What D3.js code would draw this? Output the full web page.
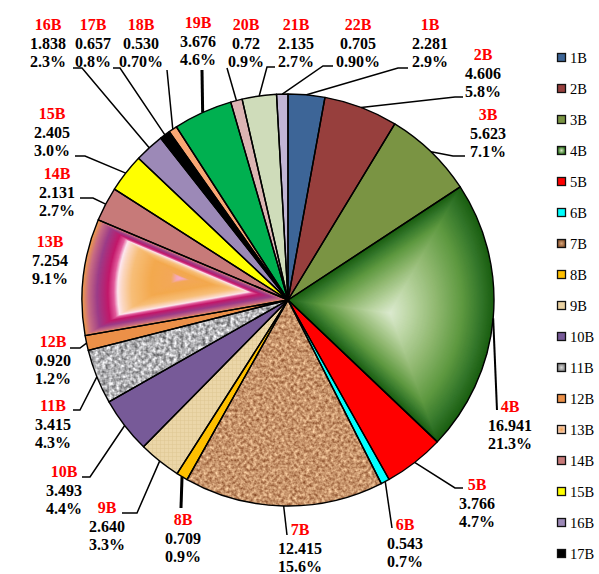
<!DOCTYPE html>
<html><head><meta charset="utf-8">
<script src="https://cdn.jsdelivr.net/npm/d3@7"></script>
<style>html,body{margin:0;padding:0;background:#fff;} svg{display:block;} text{font-family:"Liberation Serif","Times New Roman",serif;}</style>
</head><body>
<script>
// ---- data ----
const names = ["1B","2B","3B","4B","5B","6B","7B","8B","9B","10B","11B","12B","13B","14B","15B","16B","17B","18B","19B","20B","21B","22B"];
const values = [2.281,4.606,5.623,16.941,3.766,0.543,12.415,0.709,2.640,3.493,3.415,0.920,7.254,2.131,2.405,1.838,0.657,0.530,3.676,0.72,2.135,0.705];
const valueLabels = ["2.281","4.606","5.623","16.941","3.766","0.543","12.415","0.709","2.640","3.493","3.415","0.920","7.254","2.131","2.405","1.838","0.657","0.530","3.676","0.72","2.135","0.705"];
const pctLabels = ["2.9%","5.8%","7.1%","21.3%","4.7%","0.7%","15.6%","0.9%","3.3%","4.4%","4.3%","1.2%","9.1%","2.7%","3.0%","2.3%","0.8%","0.70%","4.6%","0.9%","2.7%","0.90%"];
const legendNames = names.slice(0,17);

// ---- styles / layout ----
const palette = ["#3D6597","#973F3D","#7A9443","#3E7F26","#FF0000","#00FFFF","#C8946A","#FFC000","#EAD4A5","#775A98","#B4B4B4","#EC9048","#EE9A4A","#C77A79","#FFFF00","#9C89B7","#000000","#F9A774","#00B050","#DCB4B3","#CFDCBA","#C0B5D4"];
const W=599,H=574, cx=288, cy=300, R=206;
const labelPos = [[430,30],[483,60],[488,120],[510,412],[477,490],[405,530],[300,535],[183,525],[107,513],[64,477],[53,411],[53,347],[50,247],[57,179],[52,119],[48,30],[93,30],[141,30],[198,28],[246,30],[296,30],[358,30]];
const leaderPts = [[[398,68],[408,68]],[[455,97],[463,97]],[[453,156],[465,156]],[[497,410]],[[455,488],[463,488]],[[392,528]],[[287,535]],[[181,508]],[[137,513],[122,513]],[[90,477],[82,477]],[[80,410],[73,410]],[[80,348],[70,348]],[],[[93,198],[80,198]],[[85,156],[75,156]],[[82,68],[73,68]],[[120,68],[113,68]],[[167,70]],[[202,70]],[[227,68]],[[267,67],[275,67]],[[323,66],[333,66]]];
const leaderW = [1.5,1.5,1.5,2,1.5,1.5,1.5,3,1.5,1.5,1.5,1.5,1.5,1.5,1.5,1.5,1.5,1.5,3,1.5,1.5,1.5];

const svg = d3.select("body").append("svg").attr("width",W).attr("height",H);
const defs = svg.append("defs");

function noiseFilter(id, freq, oct, seed, matrix){
  const f = defs.append("filter").attr("id",id).attr("filterUnits","userSpaceOnUse")
    .attr("x",-W).attr("y",-H).attr("width",2*W).attr("height",2*H).attr("color-interpolation-filters","sRGB");
  f.append("feTurbulence").attr("type","fractalNoise").attr("baseFrequency",freq).attr("numOctaves",oct).attr("seed",seed).attr("result","n");
  f.append("feColorMatrix").attr("in","n").attr("type","matrix").attr("values",matrix).attr("result","c");
  f.append("feComposite").attr("in","c").attr("in2","SourceGraphic").attr("operator","in");
}
noiseFilter("cork", 0.32, 2, 7, "0.65 0 0 0 0.455  0.75 0 0 0 0.205  0.7 0 0 0 0.07  0 0 0 0 1");
noiseFilter("granite", 0.28, 2, 3, "1.0 0 0 0 0.2  1.0 0 0 0 0.2  1.0 0 0 0 0.21  0 0 0 0 1");

const pat = defs.append("pattern").attr("id","canvas").attr("patternUnits","userSpaceOnUse").attr("width",4).attr("height",4);
pat.append("rect").attr("width",4).attr("height",4).attr("fill","#EBD6A8");
pat.append("rect").attr("width",4).attr("height",1).attr("fill","#DEC592").attr("opacity",0.5);
pat.append("rect").attr("width",1).attr("height",4).attr("fill","#DEC592").attr("opacity",0.5);

function radial(id, inner, outer){
  const g = defs.append("radialGradient").attr("id",id);
  g.append("stop").attr("offset","0%").attr("stop-color",inner);
  g.append("stop").attr("offset","100%").attr("stop-color",outer);
}
radial("lg4","#D5E6C2","#2A7019");
radial("lg7","#D6A478","#8A5530");
radial("lg11","#D8D8D8","#808080");
radial("lg13","#F2A050","#FAD6C0");

const pieData = d3.pie().sort(null).value(d=>d).startAngle(0).endAngle(2*Math.PI)(values);
const arc = d3.arc().innerRadius(0).outerRadius(R);
const g = svg.append("g").attr("transform",`translate(${cx},${cy})`);

function pathGradient(d, F, stops){
  const sc = d3.scaleLinear().domain(stops.map(s=>s[0])).range(stops.map(s=>s[1])).interpolate(d3.interpolateRgb).clamp(true);
  const N = 100;
  const gg = svg.append("g");
  for(let k=0;k<N;k++){
    const s = 1 - k/N;
    gg.append("path").attr("d",arc(d))
      .attr("transform",`translate(${F[0]},${F[1]}) scale(${s}) translate(${cx-F[0]},${cy-F[1]})`)
      .attr("fill",sc(s));
  }
}

pieData.forEach((d,i)=>{
  if(i===3){
    pathGradient(d,[390,313],[[1,"#1A5E10"],[0.88,"#33762A"],[0.7,"#5E9940"],[0.45,"#90B870"],[0.2,"#BCD6A4"],[0,"#DCEAD0"]]);
  } else if(i===12){
    pathGradient(d,[180,278],[[1,"#EC9A4C"],[0.94,"#C86C84"],[0.85,"#9C3C88"],[0.74,"#C2186A"],[0.68,"#E25C9C"],[0.64,"#FCE6EE"],[0.6,"#FBD8C4"],[0.5,"#F7BE78"],[0.3,"#F3A94E"],[0.1,"#F3A858"],[0.04,"#F4A8BC"],[0,"#F8B0C8"]]);
  } else if(i===6){
    g.append("path").attr("d",arc(d)).attr("fill",palette[i]);
    g.append("path").attr("d",arc(d)).attr("fill","#000").attr("filter","url(#cork)");
  } else if(i===10){
    g.append("path").attr("d",arc(d)).attr("fill",palette[i]);
    g.append("path").attr("d",arc(d)).attr("fill","#000").attr("filter","url(#granite)");
  } else if(i===8){
    g.append("path").attr("d",arc(d)).attr("fill","url(#canvas)");
  } else {
    g.append("path").attr("d",arc(d)).attr("fill",palette[i]);
  }
});
const og = svg.append("g").attr("transform",`translate(${cx},${cy})`);
pieData.forEach(d=>{
  og.append("path").attr("d",arc(d)).attr("fill","none").attr("stroke","#000").attr("stroke-width",1.4).attr("stroke-linejoin","round");
});

const lineGen = d3.line();
pieData.forEach((d,i)=>{
  if(!leaderPts[i].length) return;
  const mid = (d.startAngle+d.endAngle)/2;
  const p0 = [cx + R*Math.sin(mid), cy - R*Math.cos(mid)];
  svg.append("path").attr("d",lineGen([p0,...leaderPts[i]])).attr("fill","none")
    .attr("stroke","#000").attr("stroke-width",leaderW[i]);
});

names.forEach((n,i)=>{
  const t = svg.append("text").attr("x",labelPos[i][0]).attr("y",labelPos[i][1])
    .attr("text-anchor","middle").style("font-weight","bold").style("font-size","16px");
  t.append("tspan").attr("x",labelPos[i][0]).attr("fill","#FF0000").text(n);
  t.append("tspan").attr("x",labelPos[i][0]).attr("dy",18.7).attr("fill","#000").text(valueLabels[i]);
  t.append("tspan").attr("x",labelPos[i][0]).attr("dy",18.7).attr("fill","#000").text(pctLabels[i]);
});

const legendFill = legendNames.map((n,i)=> i===3?"url(#lg4)": i===6?"url(#lg7)": i===8?"#EAD2A2": i===10?"url(#lg11)": i===12?"url(#lg13)": palette[i]);
const ly = d3.scaleLinear().domain([0,16]).range([57.5, 553.5]);
const lg = svg.append("g");
legendNames.forEach((n,i)=>{
  lg.append("rect").attr("x",557.5).attr("y",ly(i)-4).attr("width",8).attr("height",8)
    .attr("fill",legendFill[i]).attr("stroke","#111").attr("stroke-width",1.3);
  lg.append("text").attr("x",570).attr("y",ly(i)+5).style("font-size","14.5px").attr("fill","#000").text(n);
});
</script>
</body></html>
